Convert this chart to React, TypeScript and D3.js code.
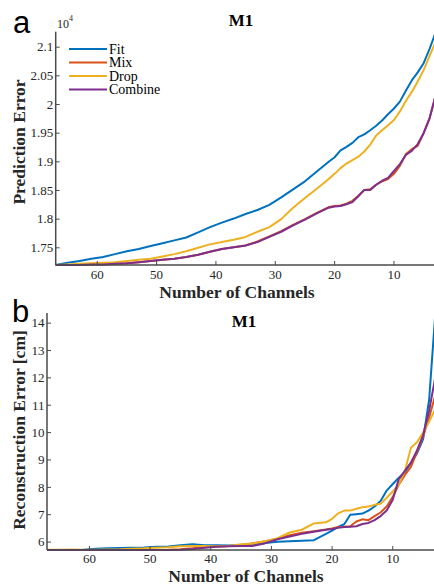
import React from "react";
import * as d3 from "d3";

// Channels (x), shared by both panels
const channels = [67, 65, 63, 61, 59, 57, 55, 53, 51, 49, 47, 45, 43, 41, 39, 37, 35, 33, 31, 29, 27, 25, 23, 21,
  20, 19, 18, 17, 16, 15, 14, 13, 12, 11, 10, 9, 8, 7, 6, 5, 4, 3];

const seriesNames = ["Fit", "Mix", "Drop", "Combine"];
const seriesColors = ["#0072BD", "#D95319", "#EDB120", "#7E2F8E"];

// Panel a: Prediction Error (x10^4)
const predFit = [1.720, 1.724, 1.727, 1.731, 1.734, 1.739, 1.744, 1.748, 1.753, 1.758, 1.763, 1.768, 1.777, 1.786, 1.794, 1.801, 1.809, 1.816, 1.825, 1.838, 1.852, 1.866, 1.883, 1.900,
  1.908, 1.920, 1.926, 1.933, 1.943, 1.948, 1.955, 1.963, 1.972, 1.983, 1.993, 2.005, 2.024, 2.042, 2.056, 2.072, 2.097, 2.125];
const predMix = [1.720, 1.720, 1.720, 1.721, 1.721, 1.722, 1.723, 1.725, 1.727, 1.729, 1.731, 1.734, 1.738, 1.743, 1.748, 1.751, 1.754, 1.761, 1.770, 1.779, 1.790, 1.800, 1.811, 1.821,
  1.823, 1.824, 1.827, 1.832, 1.841, 1.851, 1.852, 1.860, 1.866, 1.870, 1.879, 1.893, 1.913, 1.922, 1.928, 1.950, 1.976, 2.015];
const predDrop = [1.720, 1.721, 1.722, 1.723, 1.724, 1.725, 1.727, 1.729, 1.731, 1.735, 1.739, 1.744, 1.750, 1.756, 1.760, 1.764, 1.769, 1.778, 1.786, 1.800, 1.820, 1.837, 1.853, 1.870,
  1.879, 1.889, 1.897, 1.903, 1.909, 1.918, 1.930, 1.946, 1.955, 1.964, 1.973, 1.988, 2.006, 2.022, 2.040, 2.060, 2.085, 2.108];
const predCombine = [1.720, 1.720, 1.720, 1.721, 1.721, 1.722, 1.723, 1.725, 1.727, 1.729, 1.731, 1.734, 1.738, 1.743, 1.748, 1.751, 1.754, 1.760, 1.769, 1.778, 1.789, 1.799, 1.810, 1.820,
  1.822, 1.823, 1.826, 1.830, 1.840, 1.851, 1.851, 1.860, 1.867, 1.872, 1.884, 1.896, 1.912, 1.919, 1.931, 1.950, 1.976, 2.015];

// Panel b: Reconstruction Error [cm]
const reconFit = [5.71, 5.71, 5.71, 5.72, 5.76, 5.77, 5.78, 5.79, 5.80, 5.83, 5.84, 5.88, 5.92, 5.88, 5.88, 5.87, 5.89, 5.92, 5.97, 6.01, 6.03, 6.05, 6.07, 6.30,
  6.42, 6.55, 6.65, 7.00, 7.02, 7.04, 7.15, 7.30, 7.50, 7.88, 8.12, 8.35, 8.55, 8.90, 9.24, 9.75, 11.2, 14.3];
const reconMix = [5.71, 5.71, 5.71, 5.71, 5.71, 5.71, 5.71, 5.71, 5.71, 5.71, 5.72, 5.74, 5.77, 5.81, 5.84, 5.86, 5.88, 5.96, 6.03, 6.12, 6.25, 6.34, 6.40, 6.46,
  6.50, 6.55, 6.56, 6.58, 6.75, 6.83, 6.80, 6.95, 7.08, 7.30, 7.65, 8.10, 8.45, 8.75, 9.30, 9.85, 10.55, 11.35];
const reconDrop = [5.72, 5.72, 5.73, 5.72, 5.72, 5.73, 5.74, 5.76, 5.77, 5.79, 5.81, 5.85, 5.86, 5.86, 5.84, 5.86, 5.92, 5.95, 6.03, 6.14, 6.35, 6.45, 6.68, 6.72,
  6.85, 7.05, 7.15, 7.15, 7.22, 7.27, 7.30, 7.36, 7.40, 7.62, 7.85, 8.10, 8.60, 9.45, 9.65, 10.00, 10.40, 10.85];
const reconCombine = [5.71, 5.71, 5.71, 5.71, 5.71, 5.71, 5.71, 5.71, 5.71, 5.71, 5.71, 5.72, 5.75, 5.79, 5.83, 5.85, 5.86, 5.86, 5.96, 6.10, 6.20, 6.30, 6.38, 6.45,
  6.48, 6.52, 6.55, 6.56, 6.58, 6.66, 6.70, 6.80, 6.95, 7.15, 7.55, 8.30, 8.60, 8.90, 9.35, 9.90, 10.80, 12.0];

const xTicks = [60, 50, 40, 30, 20, 10];
const predTicks = [1.75, 1.8, 1.85, 1.9, 1.95, 2, 2.05, 2.1];
const reconTicks = [6, 7, 8, 9, 10, 11, 12, 13, 14];

const AXIS = "#4a4a4a";
const TICKTXT = "#262626";
const SERIF = "'Liberation Serif', 'Times New Roman', serif";
const SANS = "'Liberation Sans', Arial, sans-serif";

type PanelProps = {
  series: number[][];
  yDomain: [number, number];
  left: number;
  right: number;
  top: number;
  bottom: number;
  yTicks: number[];
  yLabel: string;
  tickBaseline: number;
  xLabelX: number;
  xLabelY: number;
  yLabelX: number;
  yLabelY: number;
  titleX: number;
  titleY: number;
};

function Panel(p: PanelProps) {
  const x = d3.scaleLinear().domain([67, 3]).range([p.left, p.right]);
  const y = d3.scaleLinear().domain(p.yDomain).range([p.bottom, p.top]);
  const line = d3.line<[number, number]>().x((d) => x(d[0])).y((d) => y(d[1]));
  return (
    <g>
      {p.series.map((vals, i) => (
        <path key={i} d={line(channels.map((c, j) => [c, vals[j]] as [number, number])) || ""}
          fill="none" stroke={seriesColors[i]} strokeWidth={2} strokeLinejoin="round" />
      ))}
      <line x1={p.left} x2={p.left} y1={p.top} y2={p.bottom} stroke={AXIS} strokeWidth={1.5} />
      <line x1={p.left} x2={440} y1={p.bottom} y2={p.bottom} stroke={AXIS} strokeWidth={1.5} />
      {p.yTicks.map((t) => (
        <g key={t}>
          <line x1={p.left} x2={p.left + 4} y1={y(t)} y2={y(t)} stroke={AXIS} strokeWidth={1} />
          <text x={p.left - 2.5} y={y(t)} dy="0.33em" textAnchor="end" fontFamily={SERIF} fontSize={13} fill={TICKTXT}>{String(t)}</text>
        </g>
      ))}
      {xTicks.map((t) => (
        <g key={t}>
          <line x1={x(t)} x2={x(t)} y1={p.bottom} y2={p.bottom - 4} stroke={AXIS} strokeWidth={1} />
          <text x={x(t)} y={p.tickBaseline} textAnchor="middle" fontFamily={SERIF} fontSize={13} fill={TICKTXT}>{String(t)}</text>
        </g>
      ))}
      <text x={p.xLabelX} y={p.xLabelY} textAnchor="middle" fontFamily={SERIF} fontWeight="bold" fontSize={17.5} fill="#262626">Number of Channels</text>
      <text transform={`translate(${p.yLabelX},${p.yLabelY}) rotate(-90)`} textAnchor="middle" fontFamily={SERIF} fontWeight="bold" fontSize={17.5} fill="#262626">{p.yLabel}</text>
      <text x={p.titleX} y={p.titleY} textAnchor="middle" fontFamily={SERIF} fontWeight="bold" fontSize={17} fill="#000">M1</text>
    </g>
  );
}

export default function App() {
  const legendY = [49, 62.5, 76, 89.5];
  return (
    <svg width={434} height={585} style={{ position: "absolute", left: 0, top: 0, background: "#fff" }}>
      <rect width={434} height={585} fill="#fff" />
      <Panel series={[predFit, predMix, predDrop, predCombine]} yDomain={[1.72, 2.127]}
        left={55.7} right={435.5} top={31.7} bottom={265} yTicks={predTicks} yLabel="Prediction Error"
        tickBaseline={279} xLabelX={237} xLabelY={297.5} yLabelX={25} yLabelY={142} titleX={241} titleY={26} />
      <Panel series={[reconFit, reconMix, reconDrop, reconCombine]} yDomain={[5.71, 14.37]}
        left={47} right={435.2} top={313} bottom={550} yTicks={reconTicks} yLabel="Reconstruction Error [cm]"
        tickBaseline={563} xLabelX={246} xLabelY={581.5} yLabelX={25} yLabelY={430} titleX={244} titleY={327} />
      <text x={57} y={28} fontFamily={SERIF} fontSize={12} fill={TICKTXT}>10</text>
      <text x={69} y={21} fontFamily={SERIF} fontSize={8} fill={TICKTXT}>4</text>
      {seriesNames.map((n, i) => (
        <g key={n}>
          <line x1={69} x2={107} y1={legendY[i]} y2={legendY[i]} stroke={seriesColors[i]} strokeWidth={2} />
          <text x={109} y={legendY[i]} dy="0.33em" fontFamily={SERIF} fontSize={14} fill="#000">{n}</text>
        </g>
      ))}
      <text x={13} y={33} fontFamily={SANS} fontSize={31} fill="#000">a</text>
      <text x={12} y={322} fontFamily={SANS} fontSize={31} fill="#000">b</text>
    </svg>
  );
}
